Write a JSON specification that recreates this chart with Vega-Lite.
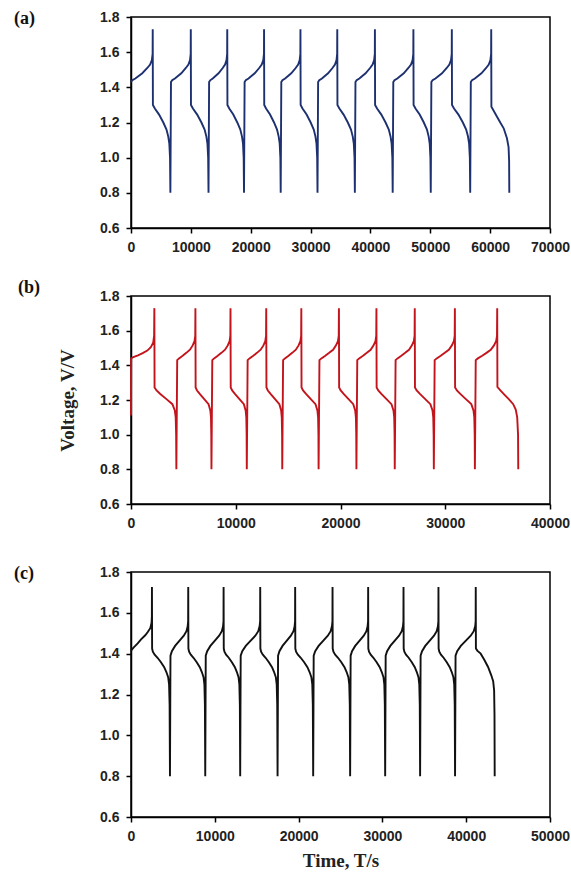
{
"$schema":"https://vega.github.io/schema/vega-lite/v6.json",
"padding":{"left":13,"top":9,"right":1,"bottom":2},
"background":"white",
"config":{
"view":{"stroke":"black","strokeWidth":1.5},
"axis":{"domainColor":"black","domainWidth":1.5,"tickColor":"black","tickWidth":1.5,"tickSize":5,"labelPadding":7,"grid":false,"labelFont":"Liberation Sans","labelFontWeight":"bold","labelFontSize":14,"labelColor":"#222","titleFont":"Liberation Serif","titleFontWeight":"bold","titleFontSize":19,"titleColor":"#222","labelFlush":false},
"title":{"font":"Liberation Serif","fontWeight":"bold","fontSize":18,"anchor":"start","frame":"group","color":"#111","offset":0,"baseline":"middle"},
"line":{"strokeWidth":1.9}
},
"datasets":{
"a":[
{"t":0,"v":1.43},{"t":218,"v":1.44},{"t":726,"v":1.45},{"t":1888,"v":1.48},{"t":2723,"v":1.51},{"t":3194,"v":1.53},{"t":3485,"v":1.555},{"t":3612,"v":1.59},{"t":3630,"v":1.73},
{"t":3660,"v":1.3},{"t":3984,"v":1.28},{"t":4692,"v":1.245},{"t":5400,"v":1.2},{"t":5931,"v":1.16},{"t":6226,"v":1.12},{"t":6403,"v":1.08},{"t":6521,"v":1.0},{"t":6580,"v":0.8},
{"t":6680,"v":1.43},{"t":6879,"v":1.44},{"t":7342,"v":1.45},{"t":8401,"v":1.48},{"t":9163,"v":1.51},{"t":9593,"v":1.53},{"t":9858,"v":1.555},{"t":9973,"v":1.59},{"t":9990,"v":1.73},
{"t":10020,"v":1.3},{"t":10345,"v":1.28},{"t":11056,"v":1.245},{"t":11766,"v":1.2},{"t":12299,"v":1.16},{"t":12595,"v":1.12},{"t":12772,"v":1.08},{"t":12891,"v":1.0},{"t":12950,"v":0.8},
{"t":13050,"v":1.43},{"t":13232,"v":1.44},{"t":13656,"v":1.45},{"t":14626,"v":1.48},{"t":15323,"v":1.51},{"t":15716,"v":1.53},{"t":15959,"v":1.555},{"t":16065,"v":1.59},{"t":16080,"v":1.73},
{"t":16110,"v":1.3},{"t":16416,"v":1.28},{"t":17088,"v":1.245},{"t":17760,"v":1.2},{"t":18264,"v":1.16},{"t":18544,"v":1.12},{"t":18712,"v":1.08},{"t":18824,"v":1.0},{"t":18880,"v":0.8},
{"t":18980,"v":1.43},{"t":19175,"v":1.44},{"t":19630,"v":1.45},{"t":20670,"v":1.48},{"t":21418,"v":1.51},{"t":21840,"v":1.53},{"t":22100,"v":1.555},{"t":22214,"v":1.59},{"t":22230,"v":1.73},
{"t":22260,"v":1.3},{"t":22564,"v":1.28},{"t":23231,"v":1.245},{"t":23898,"v":1.2},{"t":24398,"v":1.16},{"t":24676,"v":1.12},{"t":24843,"v":1.08},{"t":24954,"v":1.0},{"t":25010,"v":0.8},
{"t":25110,"v":1.43},{"t":25302,"v":1.44},{"t":25750,"v":1.45},{"t":26774,"v":1.48},{"t":27510,"v":1.51},{"t":27926,"v":1.53},{"t":28182,"v":1.555},{"t":28294,"v":1.59},{"t":28310,"v":1.73},
{"t":28340,"v":1.3},{"t":28652,"v":1.28},{"t":29336,"v":1.245},{"t":30020,"v":1.2},{"t":30533,"v":1.16},{"t":30818,"v":1.12},{"t":30989,"v":1.08},{"t":31103,"v":1.0},{"t":31160,"v":0.8},
{"t":31260,"v":1.43},{"t":31452,"v":1.44},{"t":31900,"v":1.45},{"t":32924,"v":1.48},{"t":33660,"v":1.51},{"t":34076,"v":1.53},{"t":34332,"v":1.555},{"t":34444,"v":1.59},{"t":34460,"v":1.73},
{"t":34490,"v":1.3},{"t":34813,"v":1.28},{"t":35518,"v":1.245},{"t":36224,"v":1.2},{"t":36753,"v":1.16},{"t":37047,"v":1.12},{"t":37224,"v":1.08},{"t":37341,"v":1.0},{"t":37400,"v":0.8},
{"t":37500,"v":1.43},{"t":37695,"v":1.44},{"t":38150,"v":1.45},{"t":39190,"v":1.48},{"t":39938,"v":1.51},{"t":40360,"v":1.53},{"t":40620,"v":1.555},{"t":40734,"v":1.59},{"t":40750,"v":1.73},
{"t":40780,"v":1.3},{"t":41106,"v":1.28},{"t":41819,"v":1.245},{"t":42532,"v":1.2},{"t":43067,"v":1.16},{"t":43364,"v":1.12},{"t":43542,"v":1.08},{"t":43661,"v":1.0},{"t":43720,"v":0.8},
{"t":43820,"v":1.43},{"t":44022,"v":1.44},{"t":44492,"v":1.45},{"t":45567,"v":1.48},{"t":46340,"v":1.51},{"t":46777,"v":1.53},{"t":47046,"v":1.555},{"t":47163,"v":1.59},{"t":47180,"v":1.73},
{"t":47210,"v":1.3},{"t":47528,"v":1.28},{"t":48224,"v":1.245},{"t":48920,"v":1.2},{"t":49442,"v":1.16},{"t":49732,"v":1.12},{"t":49906,"v":1.08},{"t":50022,"v":1.0},{"t":50080,"v":0.8},
{"t":50180,"v":1.43},{"t":50385,"v":1.44},{"t":50864,"v":1.45},{"t":51958,"v":1.48},{"t":52745,"v":1.51},{"t":53190,"v":1.53},{"t":53463,"v":1.555},{"t":53583,"v":1.59},{"t":53600,"v":1.73},
{"t":53630,"v":1.3},{"t":53968,"v":1.28},{"t":54705,"v":1.245},{"t":55442,"v":1.2},{"t":55995,"v":1.16},{"t":56302,"v":1.12},{"t":56486,"v":1.08},{"t":56609,"v":1.0},{"t":56670,"v":0.8},
{"t":56770,"v":1.43},{"t":56975,"v":1.44},{"t":57452,"v":1.45},{"t":58543,"v":1.48},{"t":59328,"v":1.51},{"t":59771,"v":1.53},{"t":60044,"v":1.555},{"t":60163,"v":1.59},{"t":60180,"v":1.73},
{"t":60210,"v":1.29},{"t":60542,"v":1.27},{"t":61146,"v":1.233},{"t":61690,"v":1.2},{"t":62264,"v":1.167},{"t":62807,"v":1.11},{"t":63079,"v":1.06},{"t":63170,"v":0.98},{"t":63200,"v":0.8}
],
"b":[
{"t":0,"v":1.11},{"t":15,"v":1.44},{"t":223,"v":1.448},{"t":668,"v":1.458},{"t":1114,"v":1.47},{"t":1560,"v":1.485},{"t":1894,"v":1.505},{"t":2117,"v":1.53},{"t":2206,"v":1.57},{"t":2230,"v":1.73},
{"t":2250,"v":1.272},{"t":2440,"v":1.255},{"t":2797,"v":1.235},{"t":3385,"v":1.205},{"t":3952,"v":1.176},{"t":4183,"v":1.14},{"t":4267,"v":1.1},{"t":4309,"v":1.0},{"t":4330,"v":0.8},
{"t":4410,"v":1.43},{"t":4584,"v":1.44},{"t":4932,"v":1.455},{"t":5280,"v":1.472},{"t":5628,"v":1.49},{"t":5889,"v":1.515},{"t":6063,"v":1.54},{"t":6133,"v":1.57},{"t":6150,"v":1.73},
{"t":6170,"v":1.272},{"t":6303,"v":1.255},{"t":6563,"v":1.235},{"t":6992,"v":1.205},{"t":7405,"v":1.176},{"t":7573,"v":1.14},{"t":7634,"v":1.1},{"t":7665,"v":1.0},{"t":7680,"v":0.8},
{"t":7760,"v":1.43},{"t":7934,"v":1.44},{"t":8282,"v":1.455},{"t":8630,"v":1.472},{"t":8978,"v":1.49},{"t":9239,"v":1.515},{"t":9413,"v":1.54},{"t":9483,"v":1.57},{"t":9500,"v":1.73},
{"t":9520,"v":1.272},{"t":9656,"v":1.255},{"t":9920,"v":1.235},{"t":10355,"v":1.205},{"t":10775,"v":1.176},{"t":10946,"v":1.14},{"t":11008,"v":1.1},{"t":11039,"v":1.0},{"t":11055,"v":0.8},
{"t":11135,"v":1.43},{"t":11313,"v":1.44},{"t":11668,"v":1.455},{"t":12023,"v":1.472},{"t":12378,"v":1.49},{"t":12644,"v":1.515},{"t":12821,"v":1.54},{"t":12892,"v":1.57},{"t":12910,"v":1.73},
{"t":12930,"v":1.272},{"t":13063,"v":1.255},{"t":13323,"v":1.235},{"t":13752,"v":1.205},{"t":14165,"v":1.176},{"t":14333,"v":1.14},{"t":14394,"v":1.1},{"t":14425,"v":1.0},{"t":14440,"v":0.8},
{"t":14520,"v":1.43},{"t":14694,"v":1.44},{"t":15042,"v":1.455},{"t":15390,"v":1.472},{"t":15738,"v":1.49},{"t":15999,"v":1.515},{"t":16173,"v":1.54},{"t":16243,"v":1.57},{"t":16260,"v":1.73},
{"t":16280,"v":1.272},{"t":16425,"v":1.255},{"t":16706,"v":1.235},{"t":17168,"v":1.205},{"t":17613,"v":1.176},{"t":17795,"v":1.14},{"t":17861,"v":1.1},{"t":17894,"v":1.0},{"t":17910,"v":0.8},
{"t":17990,"v":1.43},{"t":18176,"v":1.44},{"t":18548,"v":1.455},{"t":18920,"v":1.472},{"t":19292,"v":1.49},{"t":19571,"v":1.515},{"t":19757,"v":1.54},{"t":19831,"v":1.57},{"t":19850,"v":1.73},
{"t":19870,"v":1.272},{"t":20017,"v":1.255},{"t":20301,"v":1.235},{"t":20769,"v":1.205},{"t":21219,"v":1.176},{"t":21403,"v":1.14},{"t":21470,"v":1.1},{"t":21503,"v":1.0},{"t":21520,"v":0.8},
{"t":21600,"v":1.43},{"t":21783,"v":1.44},{"t":22149,"v":1.455},{"t":22515,"v":1.472},{"t":22881,"v":1.49},{"t":23156,"v":1.515},{"t":23339,"v":1.54},{"t":23412,"v":1.57},{"t":23430,"v":1.73},
{"t":23450,"v":1.272},{"t":23605,"v":1.255},{"t":23903,"v":1.235},{"t":24393,"v":1.205},{"t":24865,"v":1.176},{"t":25058,"v":1.14},{"t":25128,"v":1.1},{"t":25163,"v":1.0},{"t":25180,"v":0.8},
{"t":25260,"v":1.43},{"t":25443,"v":1.44},{"t":25809,"v":1.455},{"t":26175,"v":1.472},{"t":26541,"v":1.49},{"t":26816,"v":1.515},{"t":26999,"v":1.54},{"t":27072,"v":1.57},{"t":27090,"v":1.73},
{"t":27110,"v":1.272},{"t":27272,"v":1.255},{"t":27581,"v":1.235},{"t":28091,"v":1.205},{"t":28582,"v":1.176},{"t":28783,"v":1.14},{"t":28855,"v":1.1},{"t":28892,"v":1.0},{"t":28910,"v":0.8},
{"t":28990,"v":1.43},{"t":29183,"v":1.44},{"t":29569,"v":1.455},{"t":29955,"v":1.472},{"t":30341,"v":1.49},{"t":30631,"v":1.515},{"t":30824,"v":1.54},{"t":30901,"v":1.57},{"t":30920,"v":1.73},
{"t":30940,"v":1.272},{"t":31111,"v":1.255},{"t":31436,"v":1.235},{"t":31971,"v":1.205},{"t":32486,"v":1.176},{"t":32696,"v":1.14},{"t":32773,"v":1.1},{"t":32811,"v":1.0},{"t":32830,"v":0.8},
{"t":32910,"v":1.43},{"t":33115,"v":1.44},{"t":33525,"v":1.455},{"t":33935,"v":1.472},{"t":34345,"v":1.49},{"t":34653,"v":1.515},{"t":34858,"v":1.54},{"t":34940,"v":1.57},{"t":34960,"v":1.73},
{"t":34980,"v":1.275},{"t":35262,"v":1.255},{"t":35664,"v":1.23},{"t":36066,"v":1.205},{"t":36488,"v":1.176},{"t":36729,"v":1.145},{"t":36870,"v":1.1},{"t":36950,"v":1.0},{"t":36970,"v":0.8}
],
"c":[
{"t":0,"v":1.415},{"t":300,"v":1.43},{"t":800,"v":1.45},{"t":1200,"v":1.47},{"t":1700,"v":1.49},{"t":2000,"v":1.506},{"t":2300,"v":1.525},{"t":2450,"v":1.55},{"t":2490,"v":1.58},{"t":2500,"v":1.727},
{"t":2520,"v":1.425},{"t":2608,"v":1.41},{"t":2823,"v":1.395},{"t":3167,"v":1.38},{"t":3575,"v":1.358},{"t":3962,"v":1.334},{"t":4220,"v":1.31},{"t":4435,"v":1.285},{"t":4543,"v":1.25},{"t":4607,"v":1.15},{"t":4650,"v":0.8},
{"t":4710,"v":1.39},{"t":4880,"v":1.412},{"t":5261,"v":1.438},{"t":5770,"v":1.463},{"t":6300,"v":1.488},{"t":6618,"v":1.51},{"t":6766,"v":1.535},{"t":6820,"v":1.56},{"t":6830,"v":1.727},
{"t":6850,"v":1.425},{"t":6932,"v":1.41},{"t":7135,"v":1.395},{"t":7459,"v":1.38},{"t":7845,"v":1.358},{"t":8210,"v":1.334},{"t":8454,"v":1.31},{"t":8657,"v":1.285},{"t":8759,"v":1.25},{"t":8819,"v":1.15},{"t":8860,"v":0.8},
{"t":8920,"v":1.39},{"t":9090,"v":1.412},{"t":9474,"v":1.438},{"t":9985,"v":1.463},{"t":10518,"v":1.488},{"t":10837,"v":1.51},{"t":10986,"v":1.535},{"t":11040,"v":1.56},{"t":11050,"v":1.727},
{"t":11070,"v":1.425},{"t":11149,"v":1.41},{"t":11347,"v":1.395},{"t":11664,"v":1.38},{"t":12040,"v":1.358},{"t":12396,"v":1.334},{"t":12634,"v":1.31},{"t":12832,"v":1.285},{"t":12931,"v":1.25},{"t":12990,"v":1.15},{"t":13030,"v":0.8},
{"t":13090,"v":1.39},{"t":13276,"v":1.412},{"t":13696,"v":1.438},{"t":14255,"v":1.463},{"t":14838,"v":1.488},{"t":15187,"v":1.51},{"t":15350,"v":1.535},{"t":15410,"v":1.56},{"t":15420,"v":1.727},
{"t":15440,"v":1.425},{"t":15524,"v":1.41},{"t":15731,"v":1.395},{"t":16062,"v":1.38},{"t":16455,"v":1.358},{"t":16828,"v":1.334},{"t":17076,"v":1.31},{"t":17283,"v":1.285},{"t":17387,"v":1.25},{"t":17449,"v":1.15},{"t":17490,"v":0.8},
{"t":17550,"v":1.39},{"t":17713,"v":1.412},{"t":18080,"v":1.438},{"t":18570,"v":1.463},{"t":19080,"v":1.488},{"t":19386,"v":1.51},{"t":19529,"v":1.535},{"t":19580,"v":1.56},{"t":19590,"v":1.727},
{"t":19610,"v":1.425},{"t":19698,"v":1.41},{"t":19913,"v":1.395},{"t":20257,"v":1.38},{"t":20665,"v":1.358},{"t":21052,"v":1.334},{"t":21310,"v":1.31},{"t":21525,"v":1.285},{"t":21633,"v":1.25},{"t":21697,"v":1.15},{"t":21740,"v":0.8},
{"t":21800,"v":1.39},{"t":21980,"v":1.412},{"t":22385,"v":1.438},{"t":22925,"v":1.463},{"t":23488,"v":1.488},{"t":23825,"v":1.51},{"t":23983,"v":1.535},{"t":24040,"v":1.56},{"t":24050,"v":1.727},
{"t":24070,"v":1.425},{"t":24155,"v":1.41},{"t":24365,"v":1.395},{"t":24701,"v":1.38},{"t":25100,"v":1.358},{"t":25478,"v":1.334},{"t":25730,"v":1.31},{"t":25940,"v":1.285},{"t":26045,"v":1.25},{"t":26108,"v":1.15},{"t":26150,"v":0.8},
{"t":26210,"v":1.39},{"t":26377,"v":1.412},{"t":26753,"v":1.438},{"t":27255,"v":1.463},{"t":27778,"v":1.488},{"t":28091,"v":1.51},{"t":28237,"v":1.535},{"t":28290,"v":1.56},{"t":28300,"v":1.727},
{"t":28320,"v":1.425},{"t":28402,"v":1.41},{"t":28605,"v":1.395},{"t":28929,"v":1.38},{"t":29315,"v":1.358},{"t":29680,"v":1.334},{"t":29924,"v":1.31},{"t":30127,"v":1.285},{"t":30229,"v":1.25},{"t":30289,"v":1.15},{"t":30330,"v":0.8},
{"t":30390,"v":1.39},{"t":30560,"v":1.412},{"t":30944,"v":1.438},{"t":31455,"v":1.463},{"t":31988,"v":1.488},{"t":32307,"v":1.51},{"t":32456,"v":1.535},{"t":32510,"v":1.56},{"t":32520,"v":1.727},
{"t":32540,"v":1.425},{"t":32619,"v":1.41},{"t":32817,"v":1.395},{"t":33134,"v":1.38},{"t":33510,"v":1.358},{"t":33866,"v":1.334},{"t":34104,"v":1.31},{"t":34302,"v":1.285},{"t":34401,"v":1.25},{"t":34460,"v":1.15},{"t":34500,"v":0.8},
{"t":34560,"v":1.39},{"t":34730,"v":1.412},{"t":35114,"v":1.438},{"t":35625,"v":1.463},{"t":36158,"v":1.488},{"t":36477,"v":1.51},{"t":36626,"v":1.535},{"t":36680,"v":1.56},{"t":36690,"v":1.727},
{"t":36710,"v":1.425},{"t":36789,"v":1.41},{"t":36987,"v":1.395},{"t":37304,"v":1.38},{"t":37680,"v":1.358},{"t":38036,"v":1.334},{"t":38274,"v":1.31},{"t":38472,"v":1.285},{"t":38571,"v":1.25},{"t":38630,"v":1.15},{"t":38670,"v":0.8},
{"t":38730,"v":1.39},{"t":38923,"v":1.412},{"t":39357,"v":1.438},{"t":39935,"v":1.463},{"t":40538,"v":1.488},{"t":40899,"v":1.51},{"t":41078,"v":1.535},{"t":41130,"v":1.56},{"t":41140,"v":1.727},
{"t":41160,"v":1.425},{"t":41321,"v":1.415},{"t":41728,"v":1.4},{"t":42157,"v":1.37},{"t":42609,"v":1.335},{"t":42993,"v":1.294},{"t":43219,"v":1.265},{"t":43332,"v":1.22},{"t":43377,"v":1.1},{"t":43400,"v":0.8}
]
},
"bounds":"flush",
"spacing":68,
"vconcat":[
{"title":{"text":"(a)","dx":-117,"dy":22},
"width":419,"height":211,"data":{"name":"a"},
"mark":{"type":"line","color":"#1d3070"},
"encoding":{
"x":{"field":"t","type":"quantitative","scale":{"domain":[0,70000],"nice":false},"axis":{"values":[0,10000,20000,30000,40000,50000,60000,70000],"format":"d","title":null}},
"y":{"field":"v","type":"quantitative","scale":{"domain":[0.6,1.8],"nice":false,"zero":false},"axis":{"values":[0.6,0.8,1.0,1.2,1.4,1.6,1.8],"format":".1f","title":null}},
"order":{"value":null}}},
{"title":{"text":"(b)","dx":-113,"dy":12},
"width":419,"height":208,"data":{"name":"b"},
"mark":{"type":"line","color":"#c3141c"},
"encoding":{
"x":{"field":"t","type":"quantitative","scale":{"domain":[0,40000],"nice":false},"axis":{"values":[0,10000,20000,30000,40000],"format":"d","title":null}},
"y":{"field":"v","type":"quantitative","scale":{"domain":[0.6,1.8],"nice":false,"zero":false},"axis":{"values":[0.6,0.8,1.0,1.2,1.4,1.6,1.8],"format":".1f","title":"Voltage, V/V","titlePadding":22}},
"order":{"value":null}}},
{"title":{"text":"(c)","dx":-117,"dy":22},
"width":419,"height":245,"data":{"name":"c"},
"mark":{"type":"line","color":"#111111"},
"encoding":{
"x":{"field":"t","type":"quantitative","scale":{"domain":[0,50000],"nice":false},"axis":{"values":[0,10000,20000,30000,40000,50000],"format":"d","title":"Time, T/s","titlePadding":8}},
"y":{"field":"v","type":"quantitative","scale":{"domain":[0.6,1.8],"nice":false,"zero":false},"axis":{"values":[0.6,0.8,1.0,1.2,1.4,1.6,1.8],"format":".1f","title":null}},
"order":{"value":null}}}
]
}
